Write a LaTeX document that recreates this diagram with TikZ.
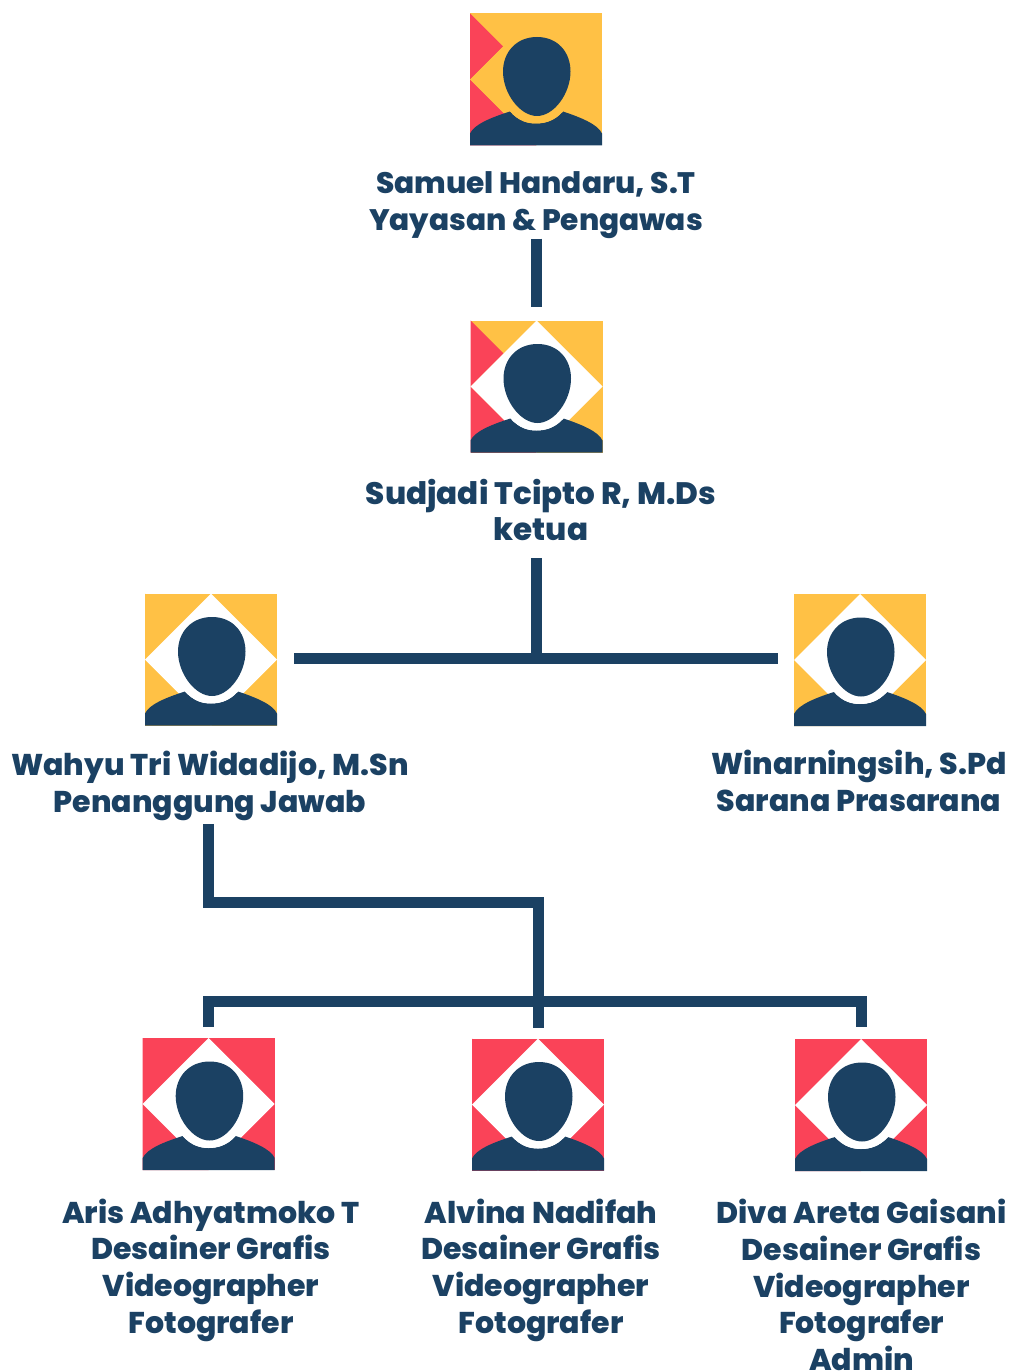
\documentclass[tikz,border=0pt]{standalone}
\usepackage{fontspec}
\setmainfont{Poppins}[BoldFont={Poppins ExtraBold}]
\usepackage{tikz}
\definecolor{navy}{HTML}{1B4163}
\definecolor{sun}{HTML}{FFC145}
\definecolor{rose}{HTML}{FA4358}
\tikzset{
	photo/.style={minimum size=132pt,inner sep=0pt,outer sep=0pt},
	staff/.style={text=navy,align=center,inner sep=0pt,font=\fontsize{30}{36.7}\selectfont\bfseries},
	orgline/.style={draw=navy,line width=11pt,line join=miter}
}
% #1 name, #2 position, #3 ground, #4 diamond, #5 upper left, #6 lower left
\newcommand{\person}[6]{
	\node[photo] (#1) at (#2) {};
	\begin{scope}[shift={(#1.center)}]
		\fill[#3] (-66,-66) rectangle (66,66);
		\fill[#5] (-66,-66) -- (-33,-33) -- (-66,0) -- cycle;
		\fill[#6] (-66,0) -- (0,66) -- (-66,66) -- cycle;
		\fill[#4] (0,-66) -- (66,0) -- (0,66) -- (-66,0) -- cycle;
		\fill[navy] (-66,66) -- (-66,54) .. controls (-62,45) and (-45,38) .. (-26,32)
			.. controls (-17,42) and (-8,44) .. (0,44) .. controls (8,44) and (18,42) .. (27,32)
			.. controls (45,38) and (62,45) .. (66,54) -- (66,66) -- cycle;
		\fill[#4] (-26,32) .. controls (-17,42) and (-8,44) .. (0,44) .. controls (8,44) and (18,42) .. (27,32) -- (0,0) -- cycle;
		\fill[navy] (1,-42.5) .. controls (22,-42.5) and (34.5,-27) .. (34.5,-8)
			.. controls (34.5,14) and (18,36.5) .. (1,36.5)
			.. controls (-16,36.5) and (-33,14) .. (-33,-8)
			.. controls (-33,-27) and (-20,-42.5) .. (1,-42.5) -- cycle;
	\end{scope}
}
\begin{document}
\begin{tikzpicture}[x=1pt,y=-1pt]
	\useasboundingbox (0,0) rectangle (1011,1372);

	\person{samuel}{536,79.5}{sun}{sun}{rose}{rose}
	\person{sudjadi}{536.5,386.5}{sun}{white}{rose}{rose}
	\person{wahyu}{211,659.5}{sun}{white}{sun}{sun}
	\person{winarni}{860,660}{sun}{white}{sun}{sun}
	\person{aris}{208.7,1104}{rose}{white}{rose}{rose}
	\person{alvina}{538,1104.5}{rose}{white}{rose}{rose}
	\person{diva}{861,1105}{rose}{white}{rose}{rose}

	\node[staff,font=\fontsize{29.6}{36.9}\selectfont\bfseries] (samuelname) at (536,205) {Samuel Handaru, S.T\\Yayasan \& Pengawas};
	\node[staff,font=\fontsize{31}{36.7}\selectfont\bfseries] (sudjadiname) at (541,510) {Sudjadi Tcipto R, M.Ds\\ketua};
	\node[staff] (wahyuname) at (210,786) {Wahyu Tri Widadijo, M.Sn\\Penanggung Jawab};
	\node[staff] (winarniname) at (859,781) {Winarningsih, S.Pd\\Sarana Prasarana};
	\node[staff] (arisname) at (211,1270) {Aris Adhyatmoko T\\Desainer Grafis\\Videographer\\Fotografer};
	\node[staff] (alvinaname) at (541,1270) {Alvina Nadifah\\Desainer Grafis\\Videographer\\Fotografer};
	\node[staff] (divaname) at (861.5,1285) {Diva Areta Gaisani\\Desainer Grafis\\Videographer\\Fotografer\\Admin};

	\coordinate (topfork) at (536.5,658);
	\coordinate (lowturn) at (538,902);
	\coordinate (lowfork) at (538,1001);

	\draw[orgline,shorten >=14pt] (sudjadi.north |- samuelname.south) -- (sudjadi.north);
	\draw[orgline,shorten <=17pt] (topfork |- sudjadiname.south) -- (topfork);
	\draw[orgline,shorten <=17pt,shorten >=16pt] (wahyu.east |- topfork) -- (winarni.west |- topfork);
	\draw[orgline,shorten <=3pt,shorten >=11pt] (aris |- wahyuname.south) |- (lowturn) -- (alvina.north);
	\draw[orgline,shorten <=11pt,shorten >=12pt] (aris.north) |- (lowfork) -| (diva.north);
\end{tikzpicture}
\end{document}
